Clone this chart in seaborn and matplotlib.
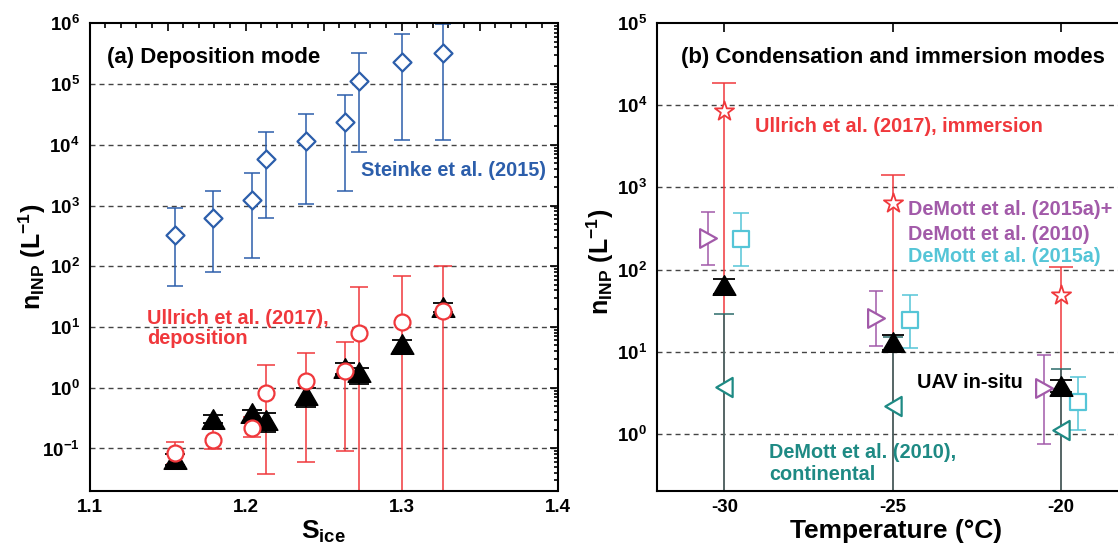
import matplotlib
matplotlib.use("Agg")
import matplotlib.pyplot as plt
from matplotlib.markers import MarkerStyle
from matplotlib.transforms import Affine2D
from matplotlib.ticker import FixedLocator, MultipleLocator, LogLocator, NullFormatter, FuncFormatter
import numpy as np
import pandas as pd
import seaborn as sns

# ---------------- data: panel (a) deposition mode ----------------
s_ice = [1.155, 1.179, 1.204, 1.213, 1.2385, 1.264, 1.273, 1.300, 1.3265]
steinke = [327, 631, 1230, 5800, 11700, 23300, 112000, 230000, 323000]
steinke_hi = [900, 1760, 3400, 16300, 32600, 65800, 323000, 670000, 970000]
steinke_lo = [48, 81, 138, 625, 1060, 1740, 7700, 12200, 12200]
ullrich_dep = [0.085, 0.137, 0.214, 0.81, 1.29, 1.9, 8.05, 12.2, 18.4]
ullrich_dep_hi = [0.129, 0.22, 0.33, 2.37, 3.77, 5.7, 45, 69, 100]
ullrich_dep_lo = [0.055, 0.098, 0.156, 0.038, 0.059, 0.091, 0.001, 0.001, 0.001]
uav_dep = [0.067, 0.31, 0.39, 0.30, 0.76, 2.1, 1.8, 5.2, 21]
uav_dep_hi = [0.08, 0.35, 0.43, 0.39, 0.98, 2.6, 2.09, 6.1, 24.6]
uav_dep_lo = [0.053, 0.26, 0.28, 0.19, 0.49, 1.7, 1.15, 3.9, 17.8]

# ---------------- data: panel (b) condensation / immersion ----------------
temps = [-30, -25, -20]
temps_dm15p = [-30.5, -25.5, -20.5]
temps_dm15a = [-29.5, -24.5, -19.5]
ullrich_imm = [8600, 650, 49.4]
ullrich_imm_hi = [18600, 1420, 107]
ullrich_imm_lo = [0.001, 0.001, 0.001]
demott15p = [243, 26, 3.56]
demott15p_hi = [500, 54, 9.0]
demott15p_lo = [112, 11.8, 0.75]
demott15a = [237, 24, 2.4]
demott15a_hi = [490, 49.5, 4.9]
demott15a_lo = [109, 10.9, 1.11]
demott10 = [3.73, 2.17, 1.11]
demott10_hi = [28.5, 15, 6.05]
demott10_lo = [0.001, 0.001, 0.001]
uav_cond = [64, 13.1, 3.8]
uav_cond_hi = [77, 15.8, 4.5]
uav_cond_lo = [50, 10.4, 3.2]

left_yticks = [1e-1, 1e0, 1e1, 1e2, 1e3, 1e4, 1e5, 1e6]
right_yticks = [1e0, 1e1, 1e2, 1e3, 1e4, 1e5]
right_xticks = [-30, -25, -20, -15]

BLUE = "#2c5eab"
RED = "#f0383c"
PURPLE = "#a25aa9"
CYAN = "#55c5d7"
TEAL = "#1e8a84"
TEAL_LINE = "#2b6b6a"
GRID = "#444444"

W, H = 1118, 547

sns.set_theme(style="white")
plt.rcParams["font.family"] = ["Liberation Sans", "DejaVu Sans"]
plt.rcParams["font.weight"] = "bold"
plt.rcParams["text.color"] = "black"
plt.rcParams["axes.labelcolor"] = "black"
plt.rcParams["xtick.color"] = "black"
plt.rcParams["ytick.color"] = "black"
plt.rcParams["mathtext.fontset"] = "custom"
plt.rcParams["mathtext.rm"] = "Liberation Sans:bold"
plt.rcParams["mathtext.bf"] = "Liberation Sans:bold"
plt.rcParams["mathtext.it"] = "Liberation Sans:bold"

fig = plt.figure(figsize=(W / 100, H / 100), dpi=100)
fig.patch.set_facecolor("white")


def fr(x0, x1, ytop, ybot):
    return [x0 / W, 1 - ybot / H, (x1 - x0) / W, (ybot - ytop) / H]


def P(x, y):
    return (x / W, 1 - y / H)


axA = fig.add_axes(fr(89.5, 557.5, 23.3, 491))
axB = fig.add_axes(fr(657.0, 657.0 + 15 * 33.68, 23.3, 491))


def ebar(ax, x, y, lo, hi, color, cap, lw=1.1, z=2):
    y = np.asarray(y, float)
    err = [y - np.asarray(lo, float), np.asarray(hi, float) - y]
    ax.errorbar(x, y, yerr=err, fmt="none", ecolor=color, elinewidth=lw,
                capsize=cap, capthick=lw, zorder=z)


def scat(ax, x, y, marker, s, fc, ec, lw, z):
    df = pd.DataFrame({"x": x, "y": y})
    sns.scatterplot(data=df, x="x", y="y", marker=marker, s=s, facecolor=fc,
                    edgecolor=ec, linewidth=lw, ax=ax, zorder=z, legend=False)


tri_up = MarkerStyle("^", transform=Affine2D().scale(1.16, 1.0))

# ---------------- panel (a) ----------------
ebar(axA, s_ice, steinke, steinke_lo, steinke_hi, BLUE, 5.8)
ebar(axA, s_ice, ullrich_dep, ullrich_dep_lo, ullrich_dep_hi, RED, 6.5)
ebar(axA, s_ice, uav_dep, uav_dep_lo, uav_dep_hi, "black", 7, lw=1.3)
scat(axA, s_ice, steinke, "D", 84, "white", BLUE, 1.6, 4)
scat(axA, s_ice, uav_dep, tri_up, 200, "black", "black", 1.0, 4)
scat(axA, s_ice, ullrich_dep, "o", 132, "white", RED, 1.6, 5)

axA.set_yscale("log")
axA.set_xlim(1.1, 1.4)
axA.set_ylim(10 ** -1.7, 1e6)
axA.yaxis.set_major_locator(FixedLocator(left_yticks))
axA.yaxis.set_major_formatter(FuncFormatter(lambda v, p: r"$\mathbf{10^{%d}}$" % round(np.log10(v))))
axA.yaxis.set_minor_locator(LogLocator(base=10, subs=np.arange(2, 10), numticks=30))
axA.yaxis.set_minor_formatter(NullFormatter())
axA.xaxis.set_major_locator(MultipleLocator(0.05))
axA.xaxis.set_minor_locator(MultipleLocator(0.01))
axA.xaxis.set_major_formatter(FuncFormatter(lambda v, p: f"{v:.1f}" if round(v * 100) % 10 == 0 else ""))
for yv in left_yticks[:-1]:
    axA.axhline(yv, color=GRID, lw=1.0, ls=(0, (3.6, 2.9)), zorder=0.5)
axA.tick_params(axis="both", which="both", direction="in", top=True, right=True,
                labelsize=13.5, width=1.2, colors="black")
axA.tick_params(axis="y", which="major", length=5.5, pad=7)
axA.tick_params(axis="y", which="minor", length=3)
axA.tick_params(axis="x", which="major", length=5.5, pad=6)
axA.tick_params(axis="x", which="minor", length=3.5)
axA.set_xlabel("")
axA.set_ylabel("")

# ---------------- panel (b) ----------------
ebar(axB, temps, ullrich_imm, ullrich_imm_lo, ullrich_imm_hi, RED, 8.3, z=2)
ebar(axB, temps, demott10, demott10_lo, demott10_hi, TEAL_LINE, 7, z=2.2)
ebar(axB, temps_dm15p, demott15p, demott15p_lo, demott15p_hi, PURPLE, 5, z=2)
ebar(axB, temps_dm15a, demott15a, demott15a_lo, demott15a_hi, CYAN, 5.8, z=2)
ebar(axB, temps, uav_cond, uav_cond_lo, uav_cond_hi, "black", 8, lw=1.3, z=2.5)
scat(axB, temps, ullrich_imm, "*", 210, "white", RED, 1.3, 4)
scat(axB, temps_dm15p, demott15p, MarkerStyle(">", transform=Affine2D().scale(0.9, 1.0)), 180, "white", PURPLE, 1.6, 4)
scat(axB, temps_dm15a, demott15a, "s", 121, "white", CYAN, 1.6, 4)
scat(axB, temps, demott10, MarkerStyle("<", transform=Affine2D().scale(0.85, 1.0)), 190, "white", TEAL, 1.6, 4)
scat(axB, temps, uav_cond, tri_up, 200, "black", "black", 1.0, 5)

axB.set_yscale("log")
axB.set_xlim(-32, -17)
axB.set_ylim(0.2, 1e5)
axB.yaxis.set_major_locator(FixedLocator(right_yticks))
axB.yaxis.set_major_formatter(FuncFormatter(lambda v, p: r"$\mathbf{10^{%d}}$" % round(np.log10(v))))
axB.yaxis.set_minor_locator(LogLocator(base=10, subs=np.arange(2, 10), numticks=30))
axB.yaxis.set_minor_formatter(NullFormatter())
axB.xaxis.set_major_locator(FixedLocator(right_xticks))
axB.xaxis.set_minor_locator(FixedLocator([]))
axB.xaxis.set_major_formatter(FuncFormatter(lambda v, p: f"{v:.0f}"))
for yv in right_yticks[:-1]:
    axB.axhline(yv, color=GRID, lw=1.0, ls=(0, (3.6, 2.9)), zorder=0.5)
axB.tick_params(axis="both", which="both", direction="in", top=True, right=False,
                labelsize=13.5, width=1.2, colors="black")
axB.tick_params(axis="y", which="major", length=5.5, pad=7)
axB.tick_params(axis="y", which="minor", length=3)
axB.tick_params(axis="x", which="major", length=6.5, pad=6)
axB.set_xlabel("")
axB.set_ylabel("")

for ax in (axA, axB):
    for sp in ax.spines.values():
        sp.set_linewidth(1.5)
        sp.set_color("black")
        sp.set_visible(True)

# ---------------- texts ----------------
fig.text(*P(107, 57), "(a) Deposition mode", fontsize=16, fontweight="bold", ha="left", va="center")
fig.text(*P(361, 171), "Steinke et al. (2015)", fontsize=14.3, fontweight="bold", color=BLUE, ha="left", va="center")
fig.text(*P(147, 318), "Ullrich et al. (2017),", fontsize=14.3, fontweight="bold", color=RED, ha="left", va="center")
fig.text(*P(147, 339), "deposition", fontsize=14.3, fontweight="bold", color=RED, ha="left", va="center")

fig.text(*P(681, 57), "(b) Condensation and immersion modes", fontsize=16, fontweight="bold", ha="left", va="center")
fig.text(*P(755, 126), "Ullrich et al. (2017), immersion", fontsize=14.3, fontweight="bold", color=RED, ha="left", va="center")
fig.text(*P(908, 209), "DeMott et al. (2015a)+", fontsize=14.3, fontweight="bold", color=PURPLE, ha="left", va="center")
fig.text(*P(908, 234), "DeMott et al. (2010)", fontsize=14.3, fontweight="bold", color=PURPLE, ha="left", va="center")
fig.text(*P(908, 256), "DeMott et al. (2015a)", fontsize=14.3, fontweight="bold", color=CYAN, ha="left", va="center")
fig.text(*P(917, 383), "UAV in-situ", fontsize=14.3, fontweight="bold", color="black", ha="left", va="center")
fig.text(*P(769, 453), "DeMott et al. (2010),", fontsize=14.3, fontweight="bold", color=TEAL, ha="left", va="center")
fig.text(*P(769, 474), "continental", fontsize=14.3, fontweight="bold", color=TEAL, ha="left", va="center")

ylab = r"$\mathbf{n_{INP}\ (L^{-1})}$"
fig.text(*P(32, 257), ylab, fontsize=18, rotation=90, ha="center", va="center")
fig.text(*P(600, 262), ylab, fontsize=18, rotation=90, ha="center", va="center")
fig.text(*P(323, 539), r"$\mathbf{S_{ice}}$", fontsize=19, ha="center", va="baseline")
fig.text(*P(896, 538), "Temperature (°C)", fontsize=19, fontweight="bold", ha="center", va="baseline")

fig.savefig("out.png", dpi=100)
